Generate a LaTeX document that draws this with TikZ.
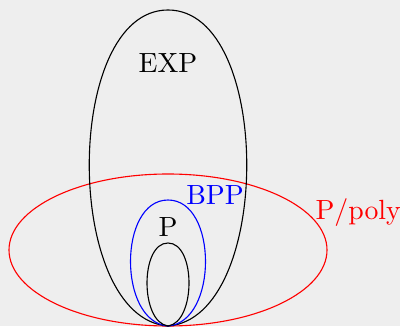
\documentclass[tikz,border=0pt]{standalone}
\begin{document}
\begin{tikzpicture}[x=0.36pt,y=-0.36pt,
  lbl/.style={inner sep=0pt, anchor=base, font=\normalsize}]
\definecolor{bgc}{RGB}{238,238,238}
\useasboundingbox (0,0) rectangle (400,326);
\fill[bgc] (0,0) rectangle (400,326);
% P/poly
\draw[red] (168,250) ellipse [x radius=57.24pt, y radius=27.36pt];
% EXP
\draw (168,326) .. controls (63,318) and (63,10) .. (168,10)
  .. controls (273,10) and (273,318) .. (168,326);
% BPP
\draw[blue] (168,326) .. controls (118,322) and (118,200) .. (168,200)
  .. controls (218,200) and (218,322) .. (168,326);
% P
\draw (168,326) .. controls (140,322) and (140,243) .. (168,243)
  .. controls (196,243) and (196,322) .. (168,326);
\node[lbl] (exp) at (168,73) {EXP};
\node[lbl, text=blue] (bpp) at (215,205) {BPP};
\node[lbl] (p) at (168,237) {P};
\node[lbl, anchor=base west, text=red] (ppoly) at (315,219) {P/poly};
\end{tikzpicture}
\end{document}
